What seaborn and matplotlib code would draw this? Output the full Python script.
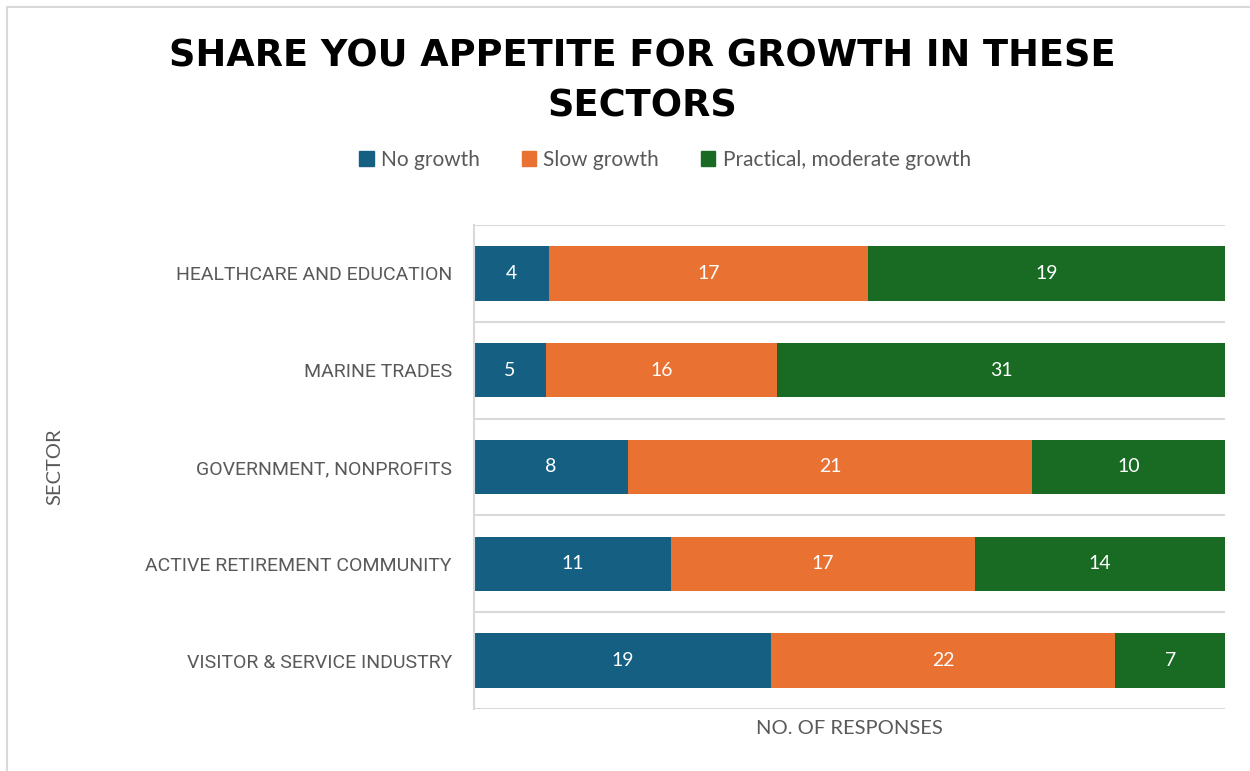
import matplotlib
matplotlib.use("Agg")
import matplotlib.pyplot as plt
import matplotlib.patches as mpatches
import pandas as pd
import seaborn as sns

sectors = [
    "HEALTHCARE AND EDUCATION",
    "MARINE TRADES",
    "GOVERNMENT, NONPROFITS",
    "ACTIVE RETIREMENT COMMUNITY",
    "VISITOR & SERVICE INDUSTRY",
]
no_growth = [4, 5, 8, 11, 19]
slow_growth = [17, 16, 21, 17, 22]
moderate_growth = [19, 31, 10, 14, 7]

series_names = ["No growth", "Slow growth", "Practical, moderate growth"]
colors = ["#156082", "#E97132", "#196B24"]
grid_color = "#D9D9D9"
text_gray = "#595959"

sns.set_theme(style="white")
plt.rcParams["font.family"] = ["Roboto", "DejaVu Sans"]

df = pd.DataFrame({
    "sector": sectors,
    "no": no_growth,
    "slow": slow_growth,
    "mod": moderate_growth,
})
df["total"] = df["no"] + df["slow"] + df["mod"]
# 100% stacked: cumulative shares, drawn back to front
df["c_no"] = df["no"] / df["total"] * 100
df["c_slow"] = (df["no"] + df["slow"]) / df["total"] * 100
df["c_mod"] = 100.0

fig = plt.figure(figsize=(12.5, 7.71), dpi=100)
ax = fig.add_axes([474 / 1250, 1 - 709 / 771, (1225 - 474) / 1250, (709 - 225) / 771])

for col, color in zip(["c_mod", "c_slow", "c_no"], colors[::-1]):
    sns.barplot(data=df, x=col, y="sector", orient="h", color=color,
                width=0.56, saturation=1, ax=ax, linewidth=0)

# segment labels
for i, row in df.iterrows():
    left = 0.0
    for key in ["no", "slow", "mod"]:
        share = row[key] / row["total"] * 100
        ax.text(left + share / 2, i, str(row[key]), ha="center", va="center",
                color="white", fontsize=14, family=["Lato", "DejaVu Sans"])
        left += share

ax.set_xlim(0, 100)
ax.set_ylim(len(sectors) - 0.5, -0.5)
for k in range(len(sectors) + 1):
    ax.axhline(k - 0.5, color=grid_color, lw=1.5, zorder=0)
ax.set_xticks([])
ax.tick_params(axis="y", length=0, pad=16, labelsize=14, labelcolor=text_gray)
for spine in ["top", "right", "bottom"]:
    ax.spines[spine].set_visible(False)
ax.spines["left"].set_color(grid_color)
ax.spines["left"].set_linewidth(1.5)
ax.set_ylabel("")
ax.set_xlabel("")

fig.text(849 / 1250, 1 - 729 / 771, "NO. OF RESPONSES", ha="center", va="center",
         fontsize=14.5, color=text_gray, family=["Lato", "DejaVu Sans"])
fig.text(55 / 1250, 1 - 467 / 771, "SECTOR", ha="center", va="center", rotation=90,
         fontsize=14.5, color=text_gray, family=["Lato", "DejaVu Sans"])

fig.text(642 / 1250, 1 - 56 / 771, "SHARE YOU APPETITE FOR GROWTH IN THESE",
         ha="center", va="center", fontsize=26.5, fontweight="bold", color="black",
         family=["DejaVu Sans"])
fig.text(642 / 1250, 1 - 106 / 771, "SECTORS",
         ha="center", va="center", fontsize=26.5, fontweight="bold", color="black",
         family=["DejaVu Sans"])

handles = [mpatches.Patch(color=c, label=n) for c, n in zip(colors, series_names)]
leg = fig.legend(handles=handles, loc="center", bbox_to_anchor=(665 / 1250, 1 - 160 / 771),
                 ncol=3, frameon=False, handlelength=0.7, handleheight=0.7,
                 handletextpad=0.35, columnspacing=2.0,
                 prop={"family": ["Lato", "DejaVu Sans"], "size": 15})
for t in leg.get_texts():
    t.set_color(text_gray)

fig.patches.append(mpatches.Rectangle((7 / 1250, -0.1), 1.2, 1 - 7 / 771 + 0.1,
                                      transform=fig.transFigure, fill=False,
                                      edgecolor=grid_color, lw=1.5))

fig.savefig("out.png", dpi=100, facecolor="white")
